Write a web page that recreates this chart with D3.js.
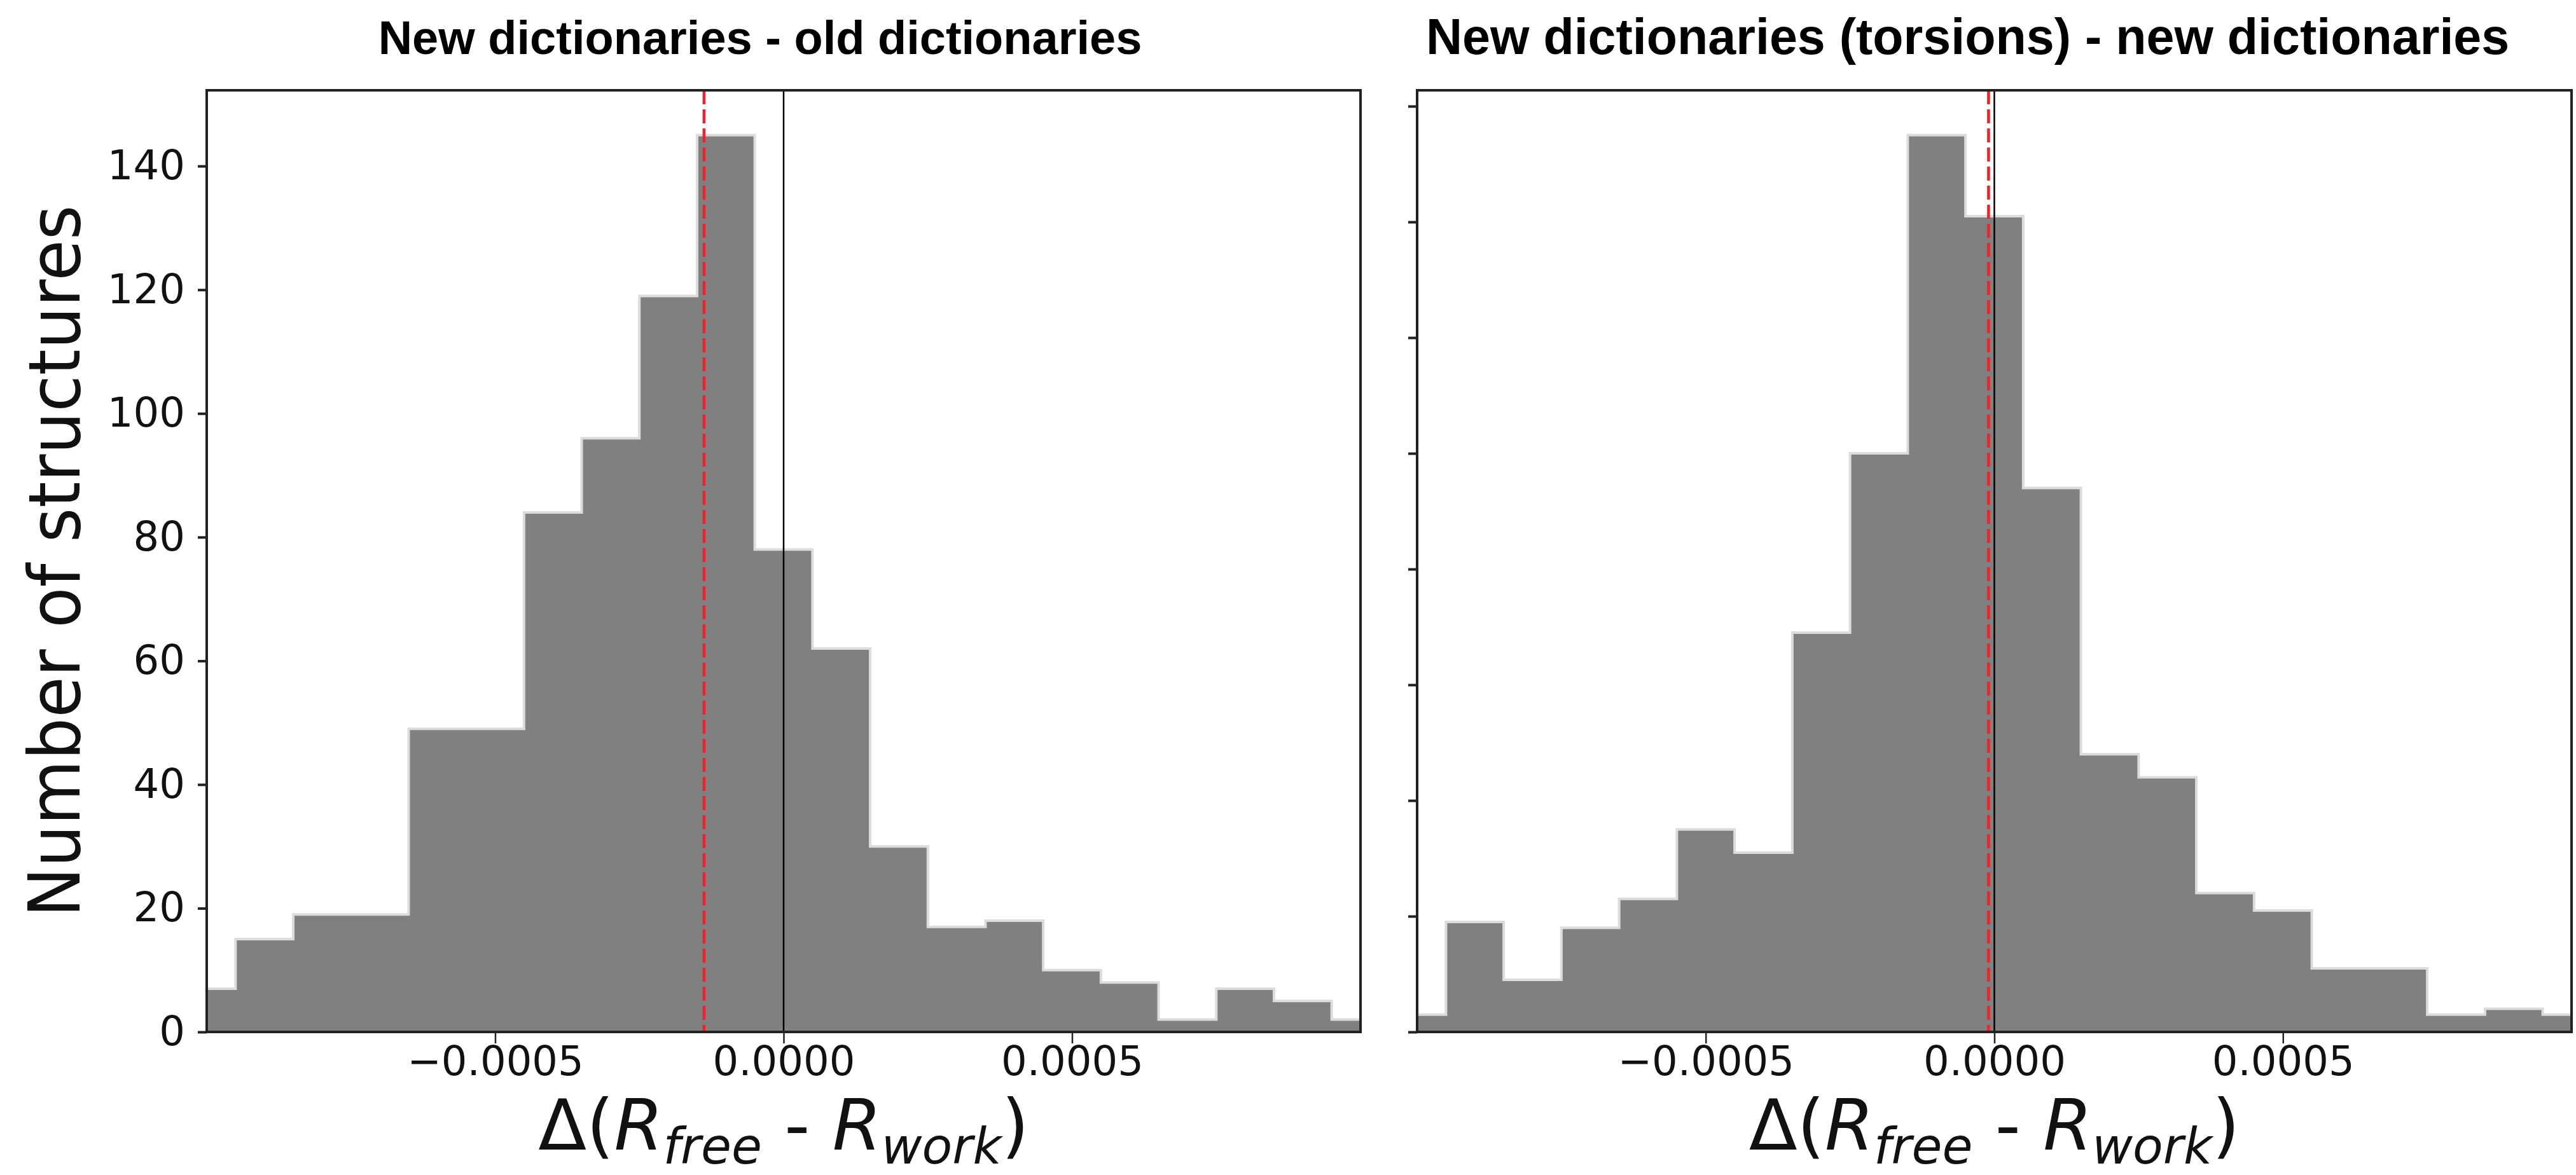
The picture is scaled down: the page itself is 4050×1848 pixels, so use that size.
<!DOCTYPE html>
<html>
<head>
<meta charset="utf-8">
<script src="https://cdn.jsdelivr.net/npm/d3@7"></script>
<style>
  body { margin: 0; background: #fff; }
</style>
</head>
<body>
<svg id="chart"></svg>
<script>
// histogram bins (centres), shared by both panels
const binCenters = [-0.0010, -0.0009, -0.0008, -0.0007, -0.0006, -0.0005, -0.0004, -0.0003, -0.0002, -0.0001,
  0.0000, 0.0001, 0.0002, 0.0003, 0.0004, 0.0005, 0.0006, 0.0007, 0.0008, 0.0009, 0.0010];
const binWidth = 0.0001;

// counts
const oldCounts = [7, 15, 19, 19, 49, 49, 84, 96, 119, 145, 78, 62, 30, 17, 18, 10, 8, 2, 7, 5, 2];
const torsionCounts = [3, 19, 9, 18, 23, 35, 31, 69, 100, 155, 141, 94, 48, 44, 24, 21, 11, 11, 3, 4, 3];

// red dashed lines (mean shift)
const meanOld = -0.000138;
const meanTorsion = -0.00001;

const titles = ["New dictionaries - old dictionaries", "New dictionaries (torsions) - new dictionaries"];
const xTicks = [-0.0005, 0, 0.0005];
const xTickLabels = ["\u22120.0005", "0.0000", "0.0005"];
const yTicksOld = [0, 20, 40, 60, 80, 100, 120, 140];
const yTicksTorsion = [0, 20, 40, 60, 80, 100, 120, 140, 160];
const yLabel = "Number of structures";

const W = 4050, H = 1848;
const plotTop = 142, plotBottom = 1623;

const svg = d3.select("#chart").attr("width", W).attr("height", H);

const panels = [
  {x0: 325, x1: 2139, counts: oldCounts, mean: meanOld, title: titles[0], yTicks: yTicksOld, yLabels: true,
   titleX: 1195, titleAnchor: "middle", titleSize: 74},
  {x0: 2228, x1: 4043, counts: torsionCounts, mean: meanTorsion, title: titles[1], yTicks: yTicksTorsion, yLabels: false,
   titleX: 2242, titleAnchor: "start", titleSize: 79}
];

panels.forEach(p => {
  const x = d3.scaleLinear().domain([-0.001, 0.001]).range([p.x0, p.x1]).clamp(true);
  const y = d3.scaleLinear().domain([0, d3.max(p.counts) * 1.05]).range([plotBottom, plotTop]);
  const g = svg.append("g");

  const pts = [];
  binCenters.forEach((c, i) => {
    pts.push([c - binWidth / 2, p.counts[i]]);
    pts.push([c + binWidth / 2, p.counts[i]]);
  });

  g.append("path")
    .attr("d", d3.area().x(d => x(d[0])).y0(y(0)).y1(d => y(d[1]))(pts))
    .attr("fill", "#808080");
  g.append("path")
    .attr("d", d3.line().x(d => x(d[0])).y(d => y(d[1]))(pts))
    .attr("fill", "none")
    .attr("stroke", "#dcdcdc")
    .attr("stroke-width", 4);

  // zero line
  g.append("line")
    .attr("x1", x(0)).attr("x2", x(0))
    .attr("y1", plotTop).attr("y2", plotBottom)
    .attr("stroke", "#000").attr("stroke-width", 2.5);
  // mean line
  g.append("line")
    .attr("x1", x(p.mean)).attr("x2", x(p.mean))
    .attr("y1", plotTop).attr("y2", plotBottom)
    .attr("stroke", "#e8262a").attr("stroke-width", 4.5)
    .attr("stroke-dasharray", "22,8");

  // axes
  const xAxis = g.append("g")
    .attr("transform", `translate(0,${plotBottom})`)
    .call(d3.axisBottom(x).tickValues(xTicks).tickFormat((d, i) => xTickLabels[i]).tickSize(18).tickPadding(5));
  xAxis.select(".domain").remove();
  xAxis.selectAll("line").attr("stroke", "#222").attr("stroke-width", 2.5);
  xAxis.selectAll("text").attr("font-family", "DejaVu Sans").attr("font-size", 64).attr("fill", "#111");

  const yAxis = g.append("g")
    .attr("transform", `translate(${p.x0},0)`)
    .call(d3.axisLeft(y).tickValues(p.yTicks).tickFormat(p.yLabels ? d3.format("d") : () => "").tickSize(14).tickPadding(20));
  yAxis.select(".domain").remove();
  yAxis.selectAll("line").attr("stroke", "#222").attr("stroke-width", 4);
  yAxis.selectAll("text").attr("font-family", "DejaVu Sans").attr("font-size", 64).attr("fill", "#111");

  // frame
  g.append("rect")
    .attr("x", p.x0).attr("y", plotTop)
    .attr("width", p.x1 - p.x0).attr("height", plotBottom - plotTop)
    .attr("fill", "none").attr("stroke", "#222").attr("stroke-width", 4);

  // title
  svg.append("text")
    .attr("x", p.titleX).attr("y", 85)
    .attr("text-anchor", p.titleAnchor)
    .attr("font-family", "Liberation Sans, Arial, sans-serif")
    .attr("font-weight", "bold")
    .attr("font-size", p.titleSize)
    .text(p.title);

  // x label
  const xl = svg.append("text")
    .attr("x", (p.x0 + p.x1) / 2).attr("y", 1808)
    .attr("text-anchor", "middle")
    .attr("font-family", "DejaVu Sans")
    .attr("font-size", 111)
    .attr("fill", "#111");
  xl.append("tspan").text("\u0394(");
  xl.append("tspan").attr("font-style", "italic").text("R");
  xl.append("tspan").attr("font-style", "italic").attr("font-size", 78).attr("dy", 22).text("free");
  xl.append("tspan").attr("dy", -22).text(" - ");
  xl.append("tspan").attr("font-style", "italic").text("R");
  xl.append("tspan").attr("font-style", "italic").attr("font-size", 78).attr("dy", 22).text("work");
  xl.append("tspan").attr("dy", -22).text(")");
});

// y label
svg.append("text")
  .attr("transform", `translate(125,${(plotTop + plotBottom) / 2}) rotate(-90)`)
  .attr("text-anchor", "middle")
  .attr("font-family", "DejaVu Sans")
  .attr("font-size", 112)
  .attr("textLength", 1120)
  .attr("lengthAdjust", "spacingAndGlyphs")
  .attr("fill", "#111")
  .text(yLabel);
</script>
</body>
</html>
